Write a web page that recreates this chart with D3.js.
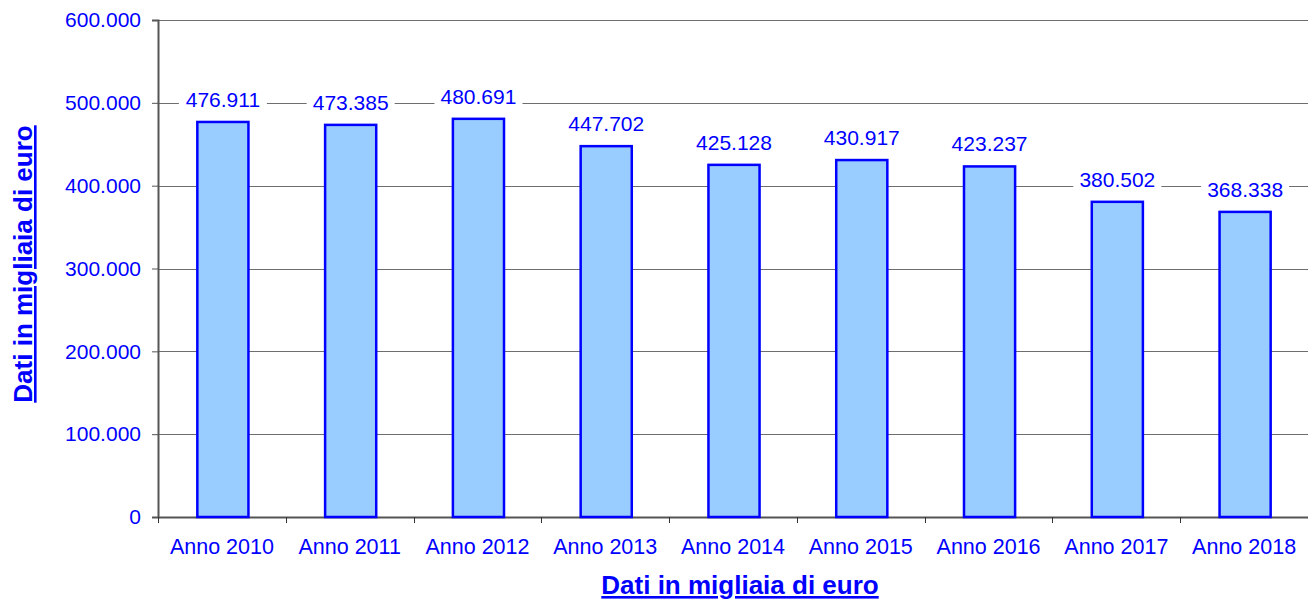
<!DOCTYPE html>
<html>
<head>
<meta charset="utf-8">
<script src="https://cdn.jsdelivr.net/npm/d3@7"></script>
<style>
  body { margin: 0; background: #fff; }
  svg text { font-family: "Liberation Sans", Arial, sans-serif; }
</style>
</head>
<body>
<svg id="chart"></svg>
<script>
// Data
const categories = ['Anno 2010', 'Anno 2011', 'Anno 2012', 'Anno 2013', 'Anno 2014',
                    'Anno 2015', 'Anno 2016', 'Anno 2017', 'Anno 2018'];
const values = [476911, 473385, 480691, 447702, 425128, 430917, 423237, 380502, 368338];
const yTicks = [0, 100000, 200000, 300000, 400000, 500000, 600000];

const width = 1308;
const height = 601;
const margin = { top: 20, right: 0, bottom: 84, left: 158 };

const svg = d3.select('#chart')
    .attr('width', width)
    .attr('height', height);

const fmt = v => v === 0 ? '0' : d3.format(',')(v).replace(/,/g, '.');

const x = d3.scaleBand()
    .domain(categories)
    .range([margin.left, width - margin.right])
    .paddingInner(0)
    .paddingOuter(0);

const y = d3.scaleLinear()
    .domain([0, 600000])
    .range([height - margin.bottom, margin.top]);

// Gridlines
svg.append('g')
    .selectAll('line')
    .data(yTicks.filter(d => d > 0))
    .enter()
    .append('line')
    .attr('x1', margin.left)
    .attr('x2', width - margin.right)
    .attr('y1', d => Math.round(y(d)) + 0.5)
    .attr('y2', d => Math.round(y(d)) + 0.5)
    .attr('stroke', '#6e6e6e')
    .attr('stroke-width', 1);

// Y axis
const yAxis = svg.append('g')
    .attr('transform', `translate(${margin.left},0)`)
    .call(d3.axisLeft(y).tickValues(yTicks).tickFormat(fmt).tickSize(6).tickPadding(11));
yAxis.select('.domain').attr('stroke', '#555').attr('stroke-width', 2);
yAxis.selectAll('.tick line').attr('stroke', '#555');
yAxis.selectAll('text')
    .attr('fill', '#0000ff')
    .style('font-size', '21px');

// X axis
const xAxis = svg.append('g')
    .attr('transform', `translate(0,${y(0)})`)
    .call(d3.axisBottom(x).tickSize(0).tickPadding(22));
xAxis.select('.domain').attr('stroke', '#555').attr('stroke-width', 2);
xAxis.selectAll('text')
    .attr('fill', '#0000ff')
    .style('font-size', '21.5px');

// category separator ticks
svg.append('g')
    .selectAll('line')
    .data(categories)
    .enter()
    .append('line')
    .attr('x1', d => Math.round(x(d)) + 0.5)
    .attr('x2', d => Math.round(x(d)) + 0.5)
    .attr('y1', y(0))
    .attr('y2', y(0) + 6)
    .attr('stroke', '#333');

// Bars
const barW = x.bandwidth() * 0.40;
svg.append('g')
    .selectAll('rect')
    .data(values)
    .enter()
    .append('rect')
    .attr('x', (d, i) => x(categories[i]) + x.bandwidth() / 2 - barW / 2 + 1)
    .attr('y', d => y(d))
    .attr('width', barW)
    .attr('height', d => y(0) - y(d))
    .attr('fill', '#99ccff')
    .attr('stroke', '#0000ff')
    .attr('stroke-width', 2.5);

// Value labels with white boxes
const labels = svg.append('g')
    .selectAll('g')
    .data(values)
    .enter()
    .append('g')
    .attr('transform', (d, i) => `translate(${x(categories[i]) + x.bandwidth() / 2 + 1},${y(d) - 15})`);

labels.append('rect')
    .attr('x', -44)
    .attr('y', -21)
    .attr('width', 88)
    .attr('height', 27)
    .attr('fill', '#fff');

labels.append('text')
    .attr('text-anchor', 'middle')
    .attr('fill', '#0000ff')
    .style('font-size', '21px')
    .text(d => fmt(d));

// Axis titles
svg.append('text')
    .attr('x', 740)
    .attr('y', 594)
    .attr('text-anchor', 'middle')
    .attr('fill', '#0000ff')
    .style('font-size', '26px')
    .style('font-weight', 'bold')
    .style('text-decoration', 'underline')
    .text('Dati in migliaia di euro');

svg.append('text')
    .attr('transform', 'translate(32,264) rotate(-90)')
    .attr('text-anchor', 'middle')
    .attr('fill', '#0000ff')
    .style('font-size', '26px')
    .style('font-weight', 'bold')
    .style('text-decoration', 'underline')
    .text('Dati in migliaia di euro');
</script>
</body>
</html>
